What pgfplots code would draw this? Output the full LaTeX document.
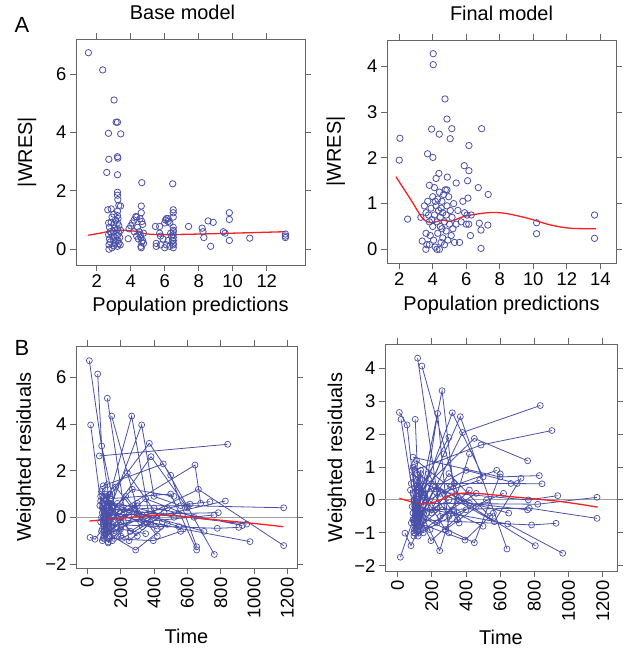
\documentclass[border=0pt]{standalone}
\usepackage{fontspec}
\setmainfont{Liberation Sans}
\usepackage{pgfplots}
\pgfplotsset{compat=1.18}
\definecolor{wblue}{HTML}{4A50A8}
\definecolor{wred}{HTML}{FF1F1F}

\pgfplotsset{
  panel/.style={
    scale only axis,
    axis line style={black!60, line width=0.9pt},
    ticklabel style={font=\fontsize{18.5}{19}\selectfont},
    label style={font=\fontsize{20}{22}\selectfont},
    title style={font=\fontsize{20}{22}\selectfont, at={(0.5,1)}, anchor=base, yshift=14bp},
    /pgf/number format/assume math mode=true,
    /pgf/number format/set thousands separator={},
  },
  pts/.style={only marks, mark=o, mark size=3.2bp, wblue, mark options={line width=0.8pt}},
  subj/.style={wblue, line width=0.8pt, mark=o, mark size=3bp, mark options={line width=0.7pt}, unbounded coords=jump},
  loess/.style={wred, line width=1.3pt, smooth, no marks},
}

\begin{document}
\begin{tikzpicture}
\path (0,0) rectangle (622bp,649bp);

% ---------- A: base model, |WRES| vs PRED
\begin{axis}[panel,
  tick align=outside, tick pos=both, major tick length=6bp,
  tick style={black!60, line width=0.9pt},
  at={(76bp,384bp)}, anchor=south west,
  width=229bp, height=226bp,
  xmin=0.78, xmax=14.25, ymin=-0.54, ymax=7.2,
  xtick={2,4,...,12}, ytick={0,2,4,6},
  xlabel={Population predictions}, ylabel={|WRES|},
  xlabel style={at={(0.5,-0.204)}, anchor=base},
  ylabel style={at={(-0.192,0.5)}, anchor=base},
  title={Base model}, title style={xshift=-8bp},
]
\addplot[pts] coordinates {
(1.51,6.73) (2.35,6.14) (3.02,5.11) (3.14,4.35) (3.22,4.35) (2.69,3.97) (3.41,3.95)
(2.71,3.08) (3.22,3.17) (3.24,3.12) (2.59,2.63) (3.22,2.55)
(3.22,1.95) (3.22,1.85) (3.24,1.70) (3.30,1.50) (3.40,1.48) (2.65,1.35) (2.85,1.38)
(3.22,1.30) (3.00,1.20) (3.22,1.15) (2.90,1.10) (3.25,1.05) (3.10,1.00) (2.70,0.90)
(2.85,0.92) (3.00,0.85) (3.22,0.90) (3.30,0.80) (2.75,0.75) (3.05,0.72) (3.22,0.68)
(2.80,0.60) (3.00,0.60) (3.30,0.55) (2.70,0.50) (2.95,0.45) (3.20,0.45) (3.35,0.40)
(2.75,0.35) (3.00,0.32) (3.25,0.30) (2.80,0.25) (3.10,0.22) (3.30,0.20) (2.72,0.15)
(3.00,0.12) (3.22,0.10) (2.90,0.05) (2.72,0.00) (3.15,0.30) (3.05,0.18) (2.85,0.55)
(3.40,0.65) (3.38,0.15)
(3.85,0.36) (3.90,0.70) (4.00,0.80) (4.10,0.90) (4.20,1.00) (4.30,1.12) (4.35,1.10)
(4.55,1.05) (4.62,1.48) (4.62,1.25) (4.65,0.95) (4.70,0.85) (4.40,0.75) (4.50,0.60)
(4.55,0.50) (4.35,0.45) (4.60,0.40) (4.70,0.30) (4.65,0.25) (4.75,0.20) (4.60,0.10)
(4.62,0.05) (4.45,0.35) (4.20,0.60) (4.75,0.55) (4.65,2.28)
(5.45,0.78) (5.50,0.20) (5.50,0.10) (5.70,0.78) (5.70,0.55) (5.75,0.45) (5.75,0.15)
(5.90,0.35) (6.00,0.90) (6.05,1.00) (6.10,1.05) (6.20,1.05) (6.20,0.95) (6.30,0.90)
(6.40,0.45) (6.45,0.30) (6.50,1.35) (6.50,1.25) (6.50,1.10) (6.50,0.75) (6.50,0.65)
(6.50,0.60) (6.50,0.50) (6.50,0.40) (6.50,0.30) (6.50,0.20) (6.50,0.15) (6.50,0.05)
(6.30,0.10) (6.20,0.30) (6.35,0.55) (6.10,0.15) (6.00,0.05) (6.47,2.24)
(7.40,0.78) (8.20,0.72) (8.25,0.60) (8.30,0.40) (8.55,0.97) (8.85,0.92) (8.70,0.10)
(9.45,0.60) (9.55,0.55) (9.80,1.25) (9.80,1.02) (9.80,0.30) (11.00,0.38)
(13.10,0.52) (13.10,0.45) (13.10,0.40)
};
\addplot[loess] coordinates {
(1.5,0.48) (2.2,0.55) (2.8,0.62) (3.5,0.65) (4.2,0.62) (4.6,0.57) (5.0,0.52)
(6.0,0.50) (8.0,0.52) (10.0,0.55) (13.1,0.60)
};
\end{axis}

% ---------- final model, |WRES| vs PRED
\begin{axis}[panel,
  tick align=outside, tick pos=both, major tick length=6bp,
  tick style={black!60, line width=0.9pt},
  at={(387bp,386bp)}, anchor=south west,
  width=229bp, height=223bp,
  xmin=1.27, xmax=14.94, ymin=-0.30, ymax=4.58,
  xtick={2,4,...,14}, ytick={0,1,...,4},
  xlabel={Population predictions}, ylabel={|WRES|},
  xlabel style={at={(0.5,-0.215)}, anchor=base},
  ylabel style={at={(-0.201,0.5)}, anchor=base},
  title={Final model},
]
\addplot[pts] coordinates {
(4.03,4.28) (4.03,4.04) (4.73,3.29) (4.85,2.85) (3.93,2.63) (5.14,2.64) (4.39,2.52)
(5.04,2.42) (6.92,2.64) (2.04,2.43) (2.00,1.95) (3.69,2.09) (4.01,2.01) (6.16,2.27)
(5.88,1.83) (6.16,1.72) (6.08,1.50) (4.37,1.66) (4.87,1.58) (5.40,1.45) (6.72,1.35)
(7.31,1.20) (2.50,0.66) (3.29,0.70) (3.37,0.18) (3.59,0.00) (10.20,0.58) (10.20,0.34)
(13.66,0.75) (13.66,0.24) (6.88,0.42) (6.88,0.02) (6.78,0.57) (7.29,0.53)
(3.50,0.95) (3.60,0.80) (3.60,0.35) (3.70,1.05) (3.75,0.75) (3.80,1.40) (3.80,0.60)
(3.80,0.10) (3.85,0.30) (3.90,0.90) (4.00,1.15) (4.00,0.50) (4.05,0.20) (4.10,1.35)
(4.10,0.75) (4.15,0.05) (4.20,1.55) (4.20,0.95) (4.25,0.60) (4.30,1.10) (4.30,0.35)
(4.35,0.85) (4.40,0.00) (4.40,1.25) (4.45,0.70) (4.50,0.15) (4.50,0.90) (4.55,1.05)
(4.55,0.45) (4.60,0.80) (4.60,0.25) (4.65,1.20) (4.70,0.60) (4.70,0.10) (4.75,1.30)
(4.80,0.75) (4.80,0.40) (4.85,0.95) (4.90,0.20) (4.95,1.15) (5.00,0.55) (5.05,0.85)
(5.10,0.30) (5.20,0.45) (5.25,1.00) (5.30,0.15) (5.40,0.55) (5.50,0.85) (5.60,0.15)
(5.70,0.60) (5.80,1.05) (5.90,0.80) (6.00,0.55) (6.05,0.75) (6.10,1.12) (6.15,0.55)
(6.25,0.30) (6.30,0.75) (4.25,0.00) (4.45,0.50) (3.95,0.65) (3.65,0.10) (4.15,1.05)
(4.85,1.30) (5.15,0.70)
};
\addplot[loess] coordinates {
(1.8,1.59) (2.7,1.08) (3.39,0.68) (3.9,0.58) (4.59,0.64) (5.08,0.61) (5.88,0.72)
(7.27,0.80) (8.27,0.79) (9.66,0.68) (11.05,0.53) (12.25,0.46) (13.74,0.45)
};
\end{axis}

% ---------- B: base model, WRES vs time
\begin{axis}[panel,
  tick align=outside, tick pos=both, major tick length=6bp,
  tick style={black!60, line width=0.9pt},
  at={(76bp,81bp)}, anchor=south west,
  width=221bp, height=222bp,
  xmin=-68, xmax=1258, ymin=-2.17, ymax=7.34,
  xtick={0,200,...,1200}, ytick={-2,0,2,4,6},
  yticklabels={−2,0,2,4,6},
  xticklabel style={rotate=90, anchor=east},
  xlabel={Time}, ylabel={Weighted residuals},
  xlabel style={at={(0.5,-0.342)}, anchor=base},
  ylabel style={at={(-0.204,0.5)}, anchor=base},
]
\addplot[gray!75, line width=1.1pt] coordinates {(-68,0) (1258,0)};
\addplot[subj] coordinates {
(12,6.71) (140,0.3) (420,-0.5) (0,nan)
(62,6.14) (86,3.06) (200,-0.8) (0,nan)
(20,3.96) (95,-0.2) (300,0.5) (0,nan)
(72,2.63) (842,3.13) (0,nan)
(120,5.1) (250,-1.0) (460,0.2) (0,nan)
(146,4.34) (330,-0.4) (0,nan)
(110,0.3) (266,4.34) (380,-0.3) (0,nan)
(90,-0.5) (326,3.96) (400,0.9) (560,0.5) (0,nan)
(100,0.6) (372,3.17) (500,1.8) (656,-1.26) (0,nan)
(110,-0.2) (382,2.6) (600,0.4) (0,nan)
(95,1.35) (456,2.29) (762,-1.59) (0,nan)
(130,0.0) (646,2.24) (680,0.6) (0,nan)
(100,-0.8) (666,1.2) (1178,-1.21) (0,nan)
(120,0.5) (600,0.5) (1178,0.41) (0,nan)
(16,-0.86) (46,-0.94) (110,-0.3) (0,nan)
(100,-0.6) (290,-1.4) (480,-0.3) (0,nan)
(120,-0.9) (396,-1.0) (560,-0.6) (0,nan)
(90,0.2) (576,-0.5) (976,-1.04) (0,nan)
(130,-0.4) (828,0.7) (0,nan)
(110,0.1) (786,0.2) (0,nan)
(95,-0.3) (780,-0.47) (908,-0.43) (0,nan)
(120,0.4) (956,-0.29) (0,nan)
(100,-0.1) (616,0.57) (736,0.67) (0,nan)
(140,0.8) (500,1.0) (656,-1.4) (0,nan)
(80,0.7) (240,1.9) (450,-0.2) (0,nan)
(90,-1.0) (230,0.9) (420,-0.8) (0,nan)
(105,1.0) (200,-0.5) (350,-0.7) (0,nan)
(85,-0.6) (180,0.6) (520,0.0) (0,nan)
(125,-1.1) (300,0.2) (700,-0.6) (0,nan)
(100,0.9) (260,-0.6) (480,0.4) (0,nan)
(115,-0.7) (350,0.8) (640,0.0) (0,nan)
(90,0.4) (150,-0.3) (250,0.1) (0,nan)
(135,0.2) (270,1.2) (520,0.9) (0,nan)
(100,-0.4) (210,-0.9) (380,-0.2) (0,nan)
(95,0.0) (320,-0.2) (760,0.1) (0,nan)
(120,-0.5) (170,1.3) (280,0.3) (0,nan)
(110,0.7) (330,0.1) (550,-0.4) (0,nan)
(100,-0.9) (200,-0.2) (300,-0.8) (0,nan)
(130,0.3) (400,0.4) (930,-0.35) (0,nan)
(85,1.1) (160,0.5) (440,-0.4) (0,nan)
(75,0.5) (105,-0.7) (145,0.2) (0,nan)
(80,-0.2) (120,0.9) (150,-1.0) (0,nan)
(90,1.2) (115,-0.4) (140,0.6) (0,nan)
(85,0.0) (130,-0.6) (160,-0.9) (0,nan)
(95,-0.9) (110,0.4) (135,1.0) (0,nan)
(100,0.3) (125,-1.05) (170,-0.5) (0,nan)
(80,0.9) (105,0.1) (155,-0.2) (0,nan)
(110,-0.5) (140,0.7) (220,0.2) (0,nan)
(90,0.6) (100,-0.3) (190,-0.6) (0,nan)
(120,1.4) (135,-0.1) (300,0.6)
};
\addplot[loess] coordinates {
(12,-0.16) (196,-0.04) (456,0.10) (676,-0.04) (996,-0.26) (1176,-0.40)
};
\end{axis}

% ---------- final model, WRES vs time
\begin{axis}[panel,
  tick align=outside, tick pos=both, major tick length=6bp,
  tick style={black!60, line width=0.9pt},
  at={(385bp,78bp)}, anchor=south west,
  width=232bp, height=227bp,
  xmin=-74, xmax=1284, ymin=-2.16, ymax=4.74,
  xtick={0,200,...,1200}, ytick={-2,-1,...,4},
  yticklabels={−2,−1,0,1,2,3,4},
  xticklabel style={rotate=90, anchor=east},
  xlabel={Time}, ylabel={Weighted residuals},
  xlabel style={at={(0.5,-0.322)}, anchor=base},
  ylabel style={at={(-0.185,0.5)}, anchor=base},
]
\addplot[gray!75, line width=1.1pt] coordinates {(-74,0) (1284,0)};
\addplot[subj] coordinates {
(117,4.31) (250,-0.5) (460,0.2) (0,nan)
(142,4.07) (360,0.0) (650,-0.4) (0,nan)
(100,-0.8) (260,3.32) (350,-0.6) (0,nan)
(10,2.66) (55,2.28) (110,-0.3) (0,nan)
(20,2.45) (95,0.0) (300,1.9) (0,nan)
(103,2.45) (130,-0.8) (234,2.63) (300,-1.0) (0,nan)
(90,-0.6) (320,2.65) (500,0.7) (0,nan)
(110,-0.5) (367,2.53) (640,-1.49) (0,nan)
(100,-0.9) (380,2.05) (835,2.87) (0,nan)
(120,0.2) (449,1.87) (761,1.19) (0,nan)
(100,0.9) (488,1.67) (903,2.11) (0,nan)
(16,-1.74) (90,-0.6) (300,0.0) (0,nan)
(43,-1.01) (78,-1.39) (120,-0.9) (0,nan)
(110,-0.3) (195,-1.24) (400,-0.3) (0,nan)
(100,0.0) (246,-1.54) (420,1.4) (0,nan)
(120,-0.7) (394,-1.22) (560,-0.4) (0,nan)
(90,-0.4) (449,-1.3) (601,0.79) (0,nan)
(130,0.6) (566,-0.66) (722,0.66) (0,nan)
(100,-0.2) (644,-0.73) (966,-1.62) (0,nan)
(110,0.8) (806,-1.39) (0,nan)
(120,-0.6) (784,-0.76) (927,-0.71) (0,nan)
(95,0.5) (663,0.5) (845,0.49) (0,nan)
(105,-0.3) (771,-0.25) (1167,-0.56) (0,nan)
(115,0.3) (765,0.0) (937,0.13) (0,nan)
(100,-0.1) (820,-0.13) (1167,0.08) (0,nan)
(90,1.3) (600,0.7) (829,0.74) (0,nan)
(125,-1.0) (250,0.2) (480,0.6) (0,nan)
(85,0.9) (200,-0.4) (330,0.5) (0,nan)
(110,-0.8) (300,0.8) (540,-0.5) (0,nan)
(100,1.1) (160,0.0) (270,1.4) (0,nan)
(130,-0.5) (220,0.4) (460,-0.2) (0,nan)
(95,-1.1) (350,-0.4) (620,0.2) (0,nan)
(120,0.4) (280,-0.9) (520,0.0) (0,nan)
(105,-0.6) (180,0.8) (360,-0.7) (0,nan)
(115,0.1) (400,0.9) (700,0.5) (0,nan)
(100,-0.3) (230,-0.7) (420,0.3) (0,nan)
(90,0.7) (150,-0.9) (320,-0.3) (0,nan)
(125,-0.2) (310,0.4) (580,0.9) (0,nan)
(110,1.2) (420,-0.1) (760,-0.3) (0,nan)
(100,-1.0) (260,-0.2) (500,-0.8) (0,nan)
(75,0.3) (100,-0.9) (140,-0.3) (0,nan)
(80,-0.7) (115,0.6) (150,-1.0) (0,nan)
(90,1.0) (110,-0.5) (135,0.2) (0,nan)
(85,-0.2) (125,-0.8) (160,0.1) (0,nan)
(95,-1.0) (110,0.3) (135,0.9) (0,nan)
(100,-0.6) (120,-1.1) (170,-0.4) (0,nan)
(80,0.5) (105,-0.2) (155,-0.6) (0,nan)
(110,-0.9) (140,0.4) (220,-0.3) (0,nan)
(90,0.2) (100,-0.7) (190,-0.9) (0,nan)
(120,-0.4) (135,0.8) (300,-0.5)
};
\addplot[loess] coordinates {
(10,0.05) (137,-0.12) (224,-0.05) (332,0.18) (459,0.20) (663,0.10) (956,-0.05) (1171,-0.22)
};
\end{axis}

\node[font=\fontsize{22}{24}\selectfont] at (22bp,624bp) {A};
\node[font=\fontsize{22}{24}\selectfont] at (22bp,301bp) {B};
\end{tikzpicture}
\end{document}
